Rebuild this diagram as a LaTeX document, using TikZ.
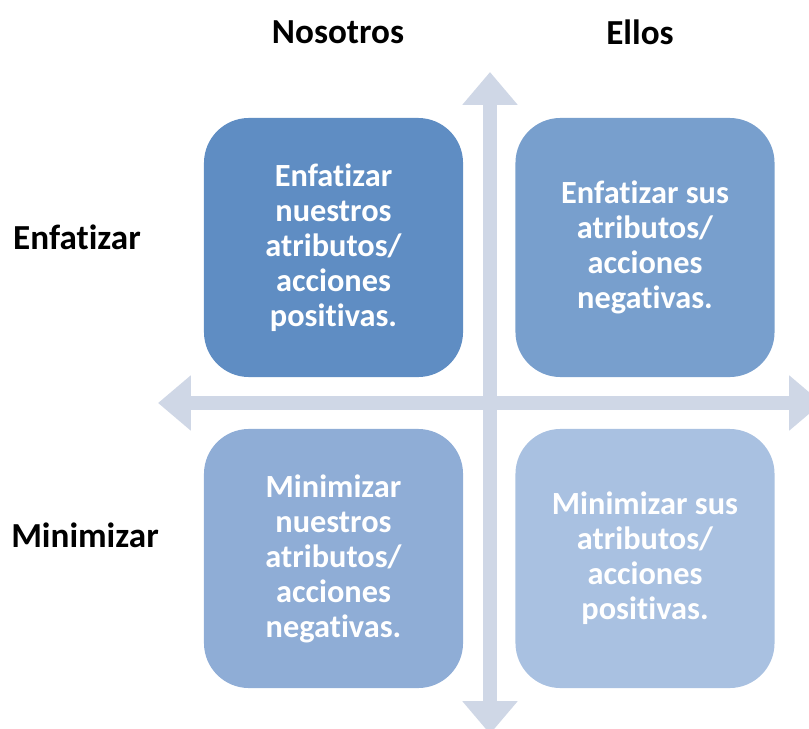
\documentclass[tikz,border=0pt]{standalone}
\usepackage{fontspec}
\setmainfont[Ligatures=NoCommon]{Carlito}
\usetikzlibrary{positioning,arrows.meta}

\definecolor{boxA}{RGB}{95,141,195}
\definecolor{boxB}{RGB}{120,159,205}
\definecolor{boxC}{RGB}{143,173,214}
\definecolor{boxD}{RGB}{169,193,225}
\definecolor{axis}{RGB}{207,215,230}

\begin{document}
\begin{tikzpicture}[x=0.025cm, y=-0.025cm,
  every node/.style={font=\bfseries\fontsize{25}{30}\selectfont},
  quad/.style={rectangle, rounded corners=1.125cm, minimum width=6.475cm,
    minimum height=6.475cm, text=white, align=center, inner sep=0pt,
    font=\bfseries\fontsize{23}{24.9}\selectfont},
  axisarrow/.style={draw=axis, line width=0.33cm,
    {Triangle[length=0.82cm, width=1.33cm]}-{Triangle[length=0.82cm, width=1.33cm]}}]

\useasboundingbox (0,0) rectangle (809,729);

% The four quadrants and the two crossing axes.

\coordinate (top) at (490,72);
\coordinate (bottom) at (490,734);
\coordinate (left) at (158,403);
\coordinate (right) at (822,403);

\draw[axisarrow] (bottom) -- (top);
\draw[axisarrow] (left) -- (right);

\node[quad, fill=boxA] (nosEnf) at (333.5,247.5) {Enfatizar\\nuestros\\atributos/\\acciones\\positivas.};
\node[quad, fill=boxB] (ellEnf) at (645,247.5) {Enfatizar sus\\atributos/\\acciones\\negativas.};
\node[quad, fill=boxC] (nosMin) at (333.5,558.5) {Minimizar\\nuestros\\atributos/\\acciones\\negativas.};
\node[quad, fill=boxD] (ellMin) at (645,558.5) {Minimizar sus\\atributos/\\acciones\\positivas.};

\node (nosotros) at (338,32) {Nosotros};
\node (ellos) at (640,32) {Ellos};
\node (enfatizar) at (77,237) {Enfatizar};
\node (minimizar) at (85,535) {Minimizar};

\end{tikzpicture}
\end{document}
